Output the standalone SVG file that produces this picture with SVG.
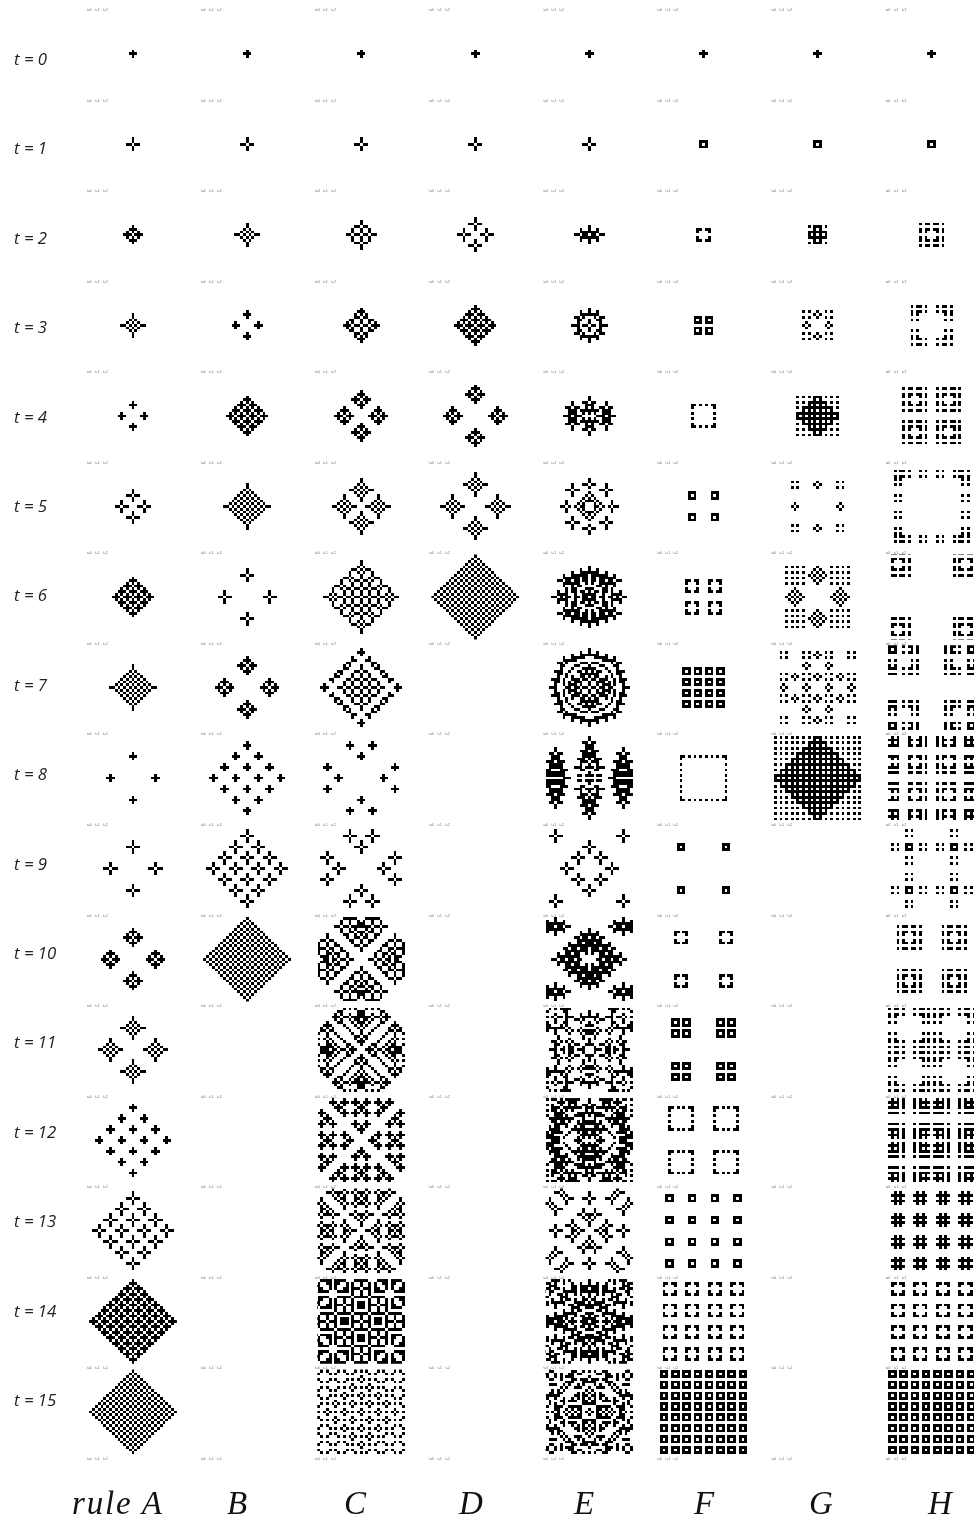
<svg xmlns="http://www.w3.org/2000/svg" width="974" height="1519" viewBox="0 0 974 1519">
<style>
use{mix-blend-mode:difference}
.lb use{mix-blend-mode:normal}
.p>use+use{clip-path:url(#cp)}
defs path{fill:#fff;shape-rendering:crispEdges}
.p{isolation:isolate;filter:url(#soft)}
.t{font:italic 16.8px "Open Sans",sans-serif;fill:#222}
.r{font:italic 33px "Liberation Serif",serif;fill:#111}
.s{font:3.2px "Liberation Sans",sans-serif;fill:#666;word-spacing:2.6px}
</style>
<defs>
<filter id="soft" filterUnits="userSpaceOnUse" x="-17" y="-17" width="35" height="35" color-interpolation-filters="sRGB"><feGaussianBlur stdDeviation=".24"/><feComponentTransfer><feFuncR type="gamma" exponent="2.1"/><feFuncG type="gamma" exponent="2.1"/><feFuncB type="gamma" exponent="2.1"/></feComponentTransfer></filter>
<clipPath id="cp"><rect x="-15" y="-15" width="31" height="31"/></clipPath>
<g id="lr"><text class="s" x="87" y="11">t=0 t+1 t+2</text><text class="s" x="201.1" y="11">t=0 t+1 t+2</text><text class="s" x="315.2" y="11">t=0 t+1 t+2</text><text class="s" x="429.3" y="11">t=0 t+1 t+2</text><text class="s" x="543.4" y="11">t=0 t+1 t+2</text><text class="s" x="657.5" y="11">t=0 t+1 t+2</text><text class="s" x="771.6" y="11">t=0 t+1 t+2</text><text class="s" x="885.7" y="11">t=0 t+1 t+2</text></g>
<path id="bg" d="M-16-16h33v33h-33z"/>
<path id="a0" d="M-1 0h3v1h-3zM0-1h1v1h-1zM0 1h1v1h-1z"/>
<path id="a1" d="M-2 0h2v1h-2zM1 0h2v1h-2zM0-2h1v2h-1zM0 1h1v2h-1z"/>
<path id="a2" d="M-3 0h3v1h-3zM1 0h3v1h-3zM-2-1h1v1h-1zM0-1h1v1h-1zM2-1h1v1h-1zM-2 1h1v1h-1zM0 1h1v1h-1zM2 1h1v1h-1zM-1-2h3v1h-3zM-1 2h3v1h-3zM0-3h1v1h-1zM0 3h1v1h-1z"/>
<path id="a3" d="M-4 0h2v1h-2zM-1 0h1v1h-1zM1 0h1v1h-1zM3 0h2v1h-2zM-2-1h1v1h-1zM0-1h1v1h-1zM2-1h1v1h-1zM-2 1h1v1h-1zM0 1h1v1h-1zM2 1h1v1h-1zM-1-2h1v1h-1zM1-2h1v1h-1zM-1 2h1v1h-1zM1 2h1v1h-1zM0-4h1v2h-1zM0 3h1v2h-1z"/>
<path id="n" d="M-1 0h1v1h-1zM1 0h1v1h-1zM0-1h1v1h-1zM0 1h1v1h-1z"/>
<path id="d" d="M-1-1h1v1h-1zM1-1h1v1h-1zM-1 1h1v1h-1zM1 1h1v1h-1z"/>
<path id="u" d="M-1-1h3v3h-3zM0 0v1h1v-1z"/>
<path id="v" d="M-2-2h2v1h-2zM1-2h2v1h-2zM-2-1h1v1h-1zM2-1h1v1h-1zM-2 1h1v1h-1zM2 1h1v1h-1zM-2 2h2v1h-2zM1 2h2v1h-2z"/>
<path id="e3" d="M-6 0h3v1h-3zM-2 0h2v1h-2zM1 0h2v1h-2zM4 0h3v1h-3zM-4-1h1v1h-1zM0-1h1v1h-1zM4-1h1v1h-1zM-4 1h1v1h-1zM0 1h1v1h-1zM4 1h1v1h-1zM-4-2h2v1h-2zM0-2h1v1h-1zM3-2h2v1h-2zM-4 2h2v1h-2zM0 2h1v1h-1zM3 2h2v1h-2zM-5-3h2v1h-2zM-2-3h1v1h-1zM2-3h1v1h-1zM4-3h2v1h-2zM-5 3h2v1h-2zM-2 3h1v1h-1zM2 3h1v1h-1zM4 3h2v1h-2zM-3-4h7v1h-7zM-3 4h7v1h-7zM-3-5h1v1h-1zM0-5h1v1h-1zM3-5h1v1h-1zM-3 5h1v1h-1zM0 5h1v1h-1zM3 5h1v1h-1zM0-6h1v1h-1zM0 6h1v1h-1z"/>
<path id="b" d="M-4-4h1v1h-1zM-2-4h2v1h-2zM1-4h2v1h-2zM4-4h1v1h-1zM-4-2h1v1h-1zM-2-2h2v1h-2zM1-2h2v1h-2zM4-2h1v1h-1zM-4 2h1v1h-1zM-2 2h2v1h-2zM1 2h2v1h-2zM4 2h1v1h-1zM-4 4h1v1h-1zM-2 4h2v1h-2zM1 4h2v1h-2zM4 4h1v1h-1zM-4-1h1v1h-1zM-2-1h1v1h-1zM2-1h1v1h-1zM4-1h1v1h-1zM-4 1h1v1h-1zM-2 1h1v1h-1zM2 1h1v1h-1zM4 1h1v1h-1z"/>

<g id="a4"><use href="#a0" x="4"/><use href="#a0" x="-4"/><use href="#a0" y="4"/><use href="#a0" y="-4"/></g>
<g id="a5"><use href="#a1" x="4"/><use href="#a1" x="-4"/><use href="#a1" y="4"/><use href="#a1" y="-4"/></g>
<g id="a6"><use href="#a2" x="4"/><use href="#a2" x="-4"/><use href="#a2" y="4"/><use href="#a2" y="-4"/></g>
<g id="a7"><use href="#a3" x="4"/><use href="#a3" x="-4"/><use href="#a3" y="4"/><use href="#a3" y="-4"/></g>
<g id="a8"><use href="#a0" x="8"/><use href="#a0" x="-8"/><use href="#a0" y="8"/><use href="#a0" y="-8"/></g>
<g id="a9"><use href="#a1" x="8"/><use href="#a1" x="-8"/><use href="#a1" y="8"/><use href="#a1" y="-8"/></g>
<g id="a10"><use href="#a2" x="8"/><use href="#a2" x="-8"/><use href="#a2" y="8"/><use href="#a2" y="-8"/></g>
<g id="a11"><use href="#a3" x="8"/><use href="#a3" x="-8"/><use href="#a3" y="8"/><use href="#a3" y="-8"/></g>
<g id="a12"><use href="#a4" x="8"/><use href="#a4" x="-8"/><use href="#a4" y="8"/><use href="#a4" y="-8"/></g>
<g id="a13"><use href="#a5" x="8"/><use href="#a5" x="-8"/><use href="#a5" y="8"/><use href="#a5" y="-8"/></g>
<g id="a14"><use href="#a6" x="8"/><use href="#a6" x="-8"/><use href="#a6" y="8"/><use href="#a6" y="-8"/></g>
<g id="a15i"><use href="#a7" x="8"/><use href="#a7" x="-8"/><use href="#a7" y="8"/><use href="#a7" y="-8"/></g>
<g id="a15"><use href="#a15i"/><use href="#a15i" x="-32"/><use href="#a15i" x="32"/><use href="#a15i" y="-32"/><use href="#a15i" y="32"/></g>

<g id="c2"><use href="#a1" x="3"/><use href="#a1" x="-3"/><use href="#a1" y="3"/><use href="#a1" y="-3"/></g>
<g id="c3"><use href="#a2" x="3"/><use href="#a2" x="-3"/><use href="#a2" y="3"/><use href="#a2" y="-3"/></g>
<g id="c4"><use href="#a2" x="6"/><use href="#a2" x="-6"/><use href="#a2" y="6"/><use href="#a2" y="-6"/></g>
<g id="c5"><use href="#a3" x="6"/><use href="#a3" x="-6"/><use href="#a3" y="6"/><use href="#a3" y="-6"/></g>
<g id="x3a3"><use href="#a3" x="3"/><use href="#a3" x="-3"/><use href="#a3" y="3"/><use href="#a3" y="-3"/></g>
<g id="x3a4"><use href="#a4" x="3"/><use href="#a4" x="-3"/><use href="#a4" y="3"/><use href="#a4" y="-3"/></g>
<g id="x3a5"><use href="#a5" x="3"/><use href="#a5" x="-3"/><use href="#a5" y="3"/><use href="#a5" y="-3"/></g>
<g id="x3a6"><use href="#a6" x="3"/><use href="#a6" x="-3"/><use href="#a6" y="3"/><use href="#a6" y="-3"/></g>
<g id="x3a7"><use href="#a7" x="3"/><use href="#a7" x="-3"/><use href="#a7" y="3"/><use href="#a7" y="-3"/></g>
<g id="x3a8"><use href="#a8" x="3"/><use href="#a8" x="-3"/><use href="#a8" y="3"/><use href="#a8" y="-3"/></g>
<g id="c6"><use href="#x3a3" x="6"/><use href="#x3a3" x="-6"/><use href="#x3a3" y="6"/><use href="#x3a3" y="-6"/></g>
<g id="c7"><use href="#x3a4" x="6"/><use href="#x3a4" x="-6"/><use href="#x3a4" y="6"/><use href="#x3a4" y="-6"/></g>
<g id="c8"><use href="#a4" x="12"/><use href="#a4" x="-12"/><use href="#a4" y="12"/><use href="#a4" y="-12"/></g>
<g id="c9"><use href="#a5" x="12"/><use href="#a5" x="-12"/><use href="#a5" y="12"/><use href="#a5" y="-12"/></g>
<g id="c10"><use href="#x3a5" x="12"/><use href="#x3a5" x="-12"/><use href="#x3a5" y="12"/><use href="#x3a5" y="-12"/></g>
<g id="c11"><use href="#x3a6" x="12"/><use href="#x3a6" x="-12"/><use href="#x3a6" y="12"/><use href="#x3a6" y="-12"/></g>
<g id="x6a6"><use href="#a6" x="6"/><use href="#a6" x="-6"/><use href="#a6" y="6"/><use href="#a6" y="-6"/></g>
<g id="x6a7"><use href="#a7" x="6"/><use href="#a7" x="-6"/><use href="#a7" y="6"/><use href="#a7" y="-6"/></g>
<g id="x63a7"><use href="#x3a7" x="6"/><use href="#x3a7" x="-6"/><use href="#x3a7" y="6"/><use href="#x3a7" y="-6"/></g>
<g id="x63a8"><use href="#x3a8" x="6"/><use href="#x3a8" x="-6"/><use href="#x3a8" y="6"/><use href="#x3a8" y="-6"/></g>
<g id="c12"><use href="#x6a6" x="12"/><use href="#x6a6" x="-12"/><use href="#x6a6" y="12"/><use href="#x6a6" y="-12"/></g>
<g id="c13"><use href="#x6a7" x="12"/><use href="#x6a7" x="-12"/><use href="#x6a7" y="12"/><use href="#x6a7" y="-12"/></g>
<g id="c14"><use href="#x63a7" x="12"/><use href="#x63a7" x="-12"/><use href="#x63a7" y="12"/><use href="#x63a7" y="-12"/></g>
<g id="c15"><use href="#x63a8" x="12"/><use href="#x63a8" x="-12"/><use href="#x63a8" y="12"/><use href="#x63a8" y="-12"/></g>

<g id="e2"><use href="#a1" x="3"/><use href="#a1" x="-3"/><use href="#a1" y="1"/><use href="#a1" y="-1"/></g>
<g id="e4"><use href="#e3" x="3"/><use href="#e3" x="-3"/><use href="#e3" y="1"/><use href="#e3" y="-1"/></g>
<g id="e5"><use href="#a1" x="8"/><use href="#a1" x="-8"/><use href="#a1" y="8"/><use href="#a1" y="-8"/><use href="#a1" x="4"/><use href="#a1" x="-4"/><use href="#a1" y="4"/><use href="#a1" y="-4"/><use href="#a1" x="6" y="6"/><use href="#a1" x="-6" y="6"/><use href="#a1" x="6" y="-6"/><use href="#a1" x="-6" y="-6"/><use href="#a1" x="2" y="2"/><use href="#a1" x="-2" y="2"/><use href="#a1" x="2" y="-2"/><use href="#a1" x="-2" y="-2"/></g>
<g id="e6"><use href="#e5" x="3"/><use href="#e5" x="-3"/><use href="#e5" y="1"/><use href="#e5" y="-1"/></g>
<g id="e7"><use href="#e3" x="8"/><use href="#e3" x="-8"/><use href="#e3" y="8"/><use href="#e3" y="-8"/><use href="#e3" x="4"/><use href="#e3" x="-4"/><use href="#e3" y="4"/><use href="#e3" y="-4"/><use href="#e3" x="6" y="6"/><use href="#e3" x="-6" y="6"/><use href="#e3" x="6" y="-6"/><use href="#e3" x="-6" y="-6"/><use href="#e3" x="2" y="2"/><use href="#e3" x="-2" y="2"/><use href="#e3" x="2" y="-2"/><use href="#e3" x="-2" y="-2"/></g>
<g id="e8"><use href="#e7" x="3"/><use href="#e7" x="-3"/><use href="#e7" y="1"/><use href="#e7" y="-1"/></g>
<g id="e9"><use href="#a1" x="8"/><use href="#a1" x="-8"/><use href="#a1" y="8"/><use href="#a1" y="-8"/><use href="#a1" x="12" y="12"/><use href="#a1" x="-12" y="12"/><use href="#a1" x="12" y="-12"/><use href="#a1" x="-12" y="-12"/><use href="#a1" x="4" y="4"/><use href="#a1" x="-4" y="4"/><use href="#a1" x="4" y="-4"/><use href="#a1" x="-4" y="-4"/></g>
<g id="e10"><use href="#e9" x="3"/><use href="#e9" x="-3"/><use href="#e9" y="1"/><use href="#e9" y="-1"/></g>
<g id="e11"><use href="#e3" x="8"/><use href="#e3" x="-8"/><use href="#e3" y="8"/><use href="#e3" y="-8"/><use href="#e3" x="12" y="12"/><use href="#e3" x="-12" y="12"/><use href="#e3" x="12" y="-12"/><use href="#e3" x="-12" y="-12"/><use href="#e3" x="4" y="4"/><use href="#e3" x="-4" y="4"/><use href="#e3" x="4" y="-4"/><use href="#e3" x="-4" y="-4"/></g>
<g id="e12"><use href="#e11" x="3"/><use href="#e11" x="-3"/><use href="#e11" y="1"/><use href="#e11" y="-1"/></g>
<g id="e13"><use href="#e5" x="8"/><use href="#e5" x="-8"/><use href="#e5" y="8"/><use href="#e5" y="-8"/><use href="#e5" x="12" y="12"/><use href="#e5" x="-12" y="12"/><use href="#e5" x="12" y="-12"/><use href="#e5" x="-12" y="-12"/><use href="#e5" x="4" y="4"/><use href="#e5" x="-4" y="4"/><use href="#e5" x="4" y="-4"/><use href="#e5" x="-4" y="-4"/></g>
<g id="e14"><use href="#e13" x="3"/><use href="#e13" x="-3"/><use href="#e13" y="1"/><use href="#e13" y="-1"/></g>
<g id="e15"><use href="#e7" x="8"/><use href="#e7" x="-8"/><use href="#e7" y="8"/><use href="#e7" y="-8"/><use href="#e7" x="12" y="12"/><use href="#e7" x="-12" y="12"/><use href="#e7" x="12" y="-12"/><use href="#e7" x="-12" y="-12"/><use href="#e7" x="4" y="4"/><use href="#e7" x="-4" y="4"/><use href="#e7" x="4" y="-4"/><use href="#e7" x="-4" y="-4"/></g>

<g id="f3"><use href="#u" x="2" y="2"/><use href="#u" x="-2" y="2"/><use href="#u" x="2" y="-2"/><use href="#u" x="-2" y="-2"/></g>
<g id="f4"><use href="#v" x="2" y="2"/><use href="#v" x="-2" y="2"/><use href="#v" x="2" y="-2"/><use href="#v" x="-2" y="-2"/></g>
<g id="f5"><use href="#u" x="4" y="4"/><use href="#u" x="-4" y="4"/><use href="#u" x="4" y="-4"/><use href="#u" x="-4" y="-4"/></g>
<g id="f6"><use href="#v" x="4" y="4"/><use href="#v" x="-4" y="4"/><use href="#v" x="4" y="-4"/><use href="#v" x="-4" y="-4"/></g>
<g id="f7"><use href="#f3" x="4" y="4"/><use href="#f3" x="-4" y="4"/><use href="#f3" x="4" y="-4"/><use href="#f3" x="-4" y="-4"/></g>
<g id="f8"><use href="#f4" x="4" y="4"/><use href="#f4" x="-4" y="4"/><use href="#f4" x="4" y="-4"/><use href="#f4" x="-4" y="-4"/></g>
<g id="f9"><use href="#u" x="8" y="8"/><use href="#u" x="-8" y="8"/><use href="#u" x="8" y="-8"/><use href="#u" x="-8" y="-8"/></g>
<g id="f10"><use href="#v" x="8" y="8"/><use href="#v" x="-8" y="8"/><use href="#v" x="8" y="-8"/><use href="#v" x="-8" y="-8"/></g>
<g id="f11"><use href="#f3" x="8" y="8"/><use href="#f3" x="-8" y="8"/><use href="#f3" x="8" y="-8"/><use href="#f3" x="-8" y="-8"/></g>
<g id="f12"><use href="#f4" x="8" y="8"/><use href="#f4" x="-8" y="8"/><use href="#f4" x="8" y="-8"/><use href="#f4" x="-8" y="-8"/></g>
<g id="f13"><use href="#f5" x="8" y="8"/><use href="#f5" x="-8" y="8"/><use href="#f5" x="8" y="-8"/><use href="#f5" x="-8" y="-8"/></g>
<g id="f14"><use href="#f6" x="8" y="8"/><use href="#f6" x="-8" y="8"/><use href="#f6" x="8" y="-8"/><use href="#f6" x="-8" y="-8"/></g>
<g id="f15"><use href="#f7" x="8" y="8"/><use href="#f7" x="-8" y="8"/><use href="#f7" x="8" y="-8"/><use href="#f7" x="-8" y="-8"/></g>

<g id="n3"><use href="#n" x="2"/><use href="#n" x="-2"/><use href="#n" y="2"/><use href="#n" y="-2"/></g>
<g id="d3"><use href="#d" x="2" y="2"/><use href="#d" x="-2" y="2"/><use href="#d" x="2" y="-2"/><use href="#d" x="-2" y="-2"/></g>
<g id="n5"><use href="#n" x="4"/><use href="#n" x="-4"/><use href="#n" y="4"/><use href="#n" y="-4"/></g>
<g id="d5"><use href="#d" x="4" y="4"/><use href="#d" x="-4" y="4"/><use href="#d" x="4" y="-4"/><use href="#d" x="-4" y="-4"/></g>
<g id="n7"><use href="#n3" x="4"/><use href="#n3" x="-4"/><use href="#n3" y="4"/><use href="#n3" y="-4"/></g>
<g id="d7"><use href="#d3" x="4" y="4"/><use href="#d3" x="-4" y="4"/><use href="#d3" x="4" y="-4"/><use href="#d3" x="-4" y="-4"/></g>
<g id="n9"><use href="#n" x="8"/><use href="#n" x="-8"/><use href="#n" y="8"/><use href="#n" y="-8"/></g>
<g id="d9"><use href="#d" x="8" y="8"/><use href="#d" x="-8" y="8"/><use href="#d" x="8" y="-8"/><use href="#d" x="-8" y="-8"/></g>
<g id="n11"><use href="#n3" x="8"/><use href="#n3" x="-8"/><use href="#n3" y="8"/><use href="#n3" y="-8"/></g>
<g id="d11"><use href="#d3" x="8" y="8"/><use href="#d3" x="-8" y="8"/><use href="#d3" x="8" y="-8"/><use href="#d3" x="-8" y="-8"/></g>
<g id="n13"><use href="#n5" x="8"/><use href="#n5" x="-8"/><use href="#n5" y="8"/><use href="#n5" y="-8"/></g>
<g id="d13"><use href="#d5" x="8" y="8"/><use href="#d5" x="-8" y="8"/><use href="#d5" x="8" y="-8"/><use href="#d5" x="-8" y="-8"/></g>
<g id="n15"><use href="#n7" x="8"/><use href="#n7" x="-8"/><use href="#n7" y="8"/><use href="#n7" y="-8"/></g>
<g id="d15"><use href="#d7" x="8" y="8"/><use href="#d7" x="-8" y="8"/><use href="#d7" x="8" y="-8"/><use href="#d7" x="-8" y="-8"/></g>

<g id="h3"><use href="#b" x="3" y="3"/><use href="#b" x="-3" y="3"/><use href="#b" x="3" y="-3"/><use href="#b" x="-3" y="-3"/></g>
<g id="h4"><use href="#b" x="6" y="6"/><use href="#b" x="-6" y="6"/><use href="#b" x="6" y="-6"/><use href="#b" x="-6" y="-6"/></g>
<g id="h5"><use href="#h3" x="6" y="6"/><use href="#h3" x="-6" y="6"/><use href="#h3" x="6" y="-6"/><use href="#h3" x="-6" y="-6"/></g>
<g id="h6"><use href="#b" x="12" y="12"/><use href="#b" x="-12" y="12"/><use href="#b" x="12" y="-12"/><use href="#b" x="-12" y="-12"/></g>
<g id="h7"><use href="#h3" x="12" y="12"/><use href="#h3" x="-12" y="12"/><use href="#h3" x="12" y="-12"/><use href="#h3" x="-12" y="-12"/></g>
<g id="h8"><use href="#h4" x="12" y="12"/><use href="#h4" x="-12" y="12"/><use href="#h4" x="12" y="-12"/><use href="#h4" x="-12" y="-12"/></g>
<g id="h9"><use href="#h5" x="12" y="12"/><use href="#h5" x="-12" y="12"/><use href="#h5" x="12" y="-12"/><use href="#h5" x="-12" y="-12"/></g>
<g id="h10"><use href="#b" x="8" y="8"/><use href="#b" x="-8" y="8"/><use href="#b" x="8" y="-8"/><use href="#b" x="-8" y="-8"/></g>
<g id="h11"><use href="#h3" x="8" y="8"/><use href="#h3" x="-8" y="8"/><use href="#h3" x="8" y="-8"/><use href="#h3" x="-8" y="-8"/></g>
<g id="h12"><use href="#h4" x="8" y="8"/><use href="#h4" x="-8" y="8"/><use href="#h4" x="8" y="-8"/><use href="#h4" x="-8" y="-8"/></g>
<g id="h13"><use href="#h5" x="8" y="8"/><use href="#h5" x="-8" y="8"/><use href="#h5" x="8" y="-8"/><use href="#h5" x="-8" y="-8"/></g>
<g id="h14"><use href="#h6" x="8" y="8"/><use href="#h6" x="-8" y="8"/><use href="#h6" x="8" y="-8"/><use href="#h6" x="-8" y="-8"/></g>
<g id="h15"><use href="#h7" x="8" y="8"/><use href="#h7" x="-8" y="8"/><use href="#h7" x="8" y="-8"/><use href="#h7" x="-8" y="-8"/></g>

<g id="wc8"><use href="#c8"/><use href="#c8" x="32"/><use href="#c8" x="-32"/><use href="#c8" y="32"/><use href="#c8" y="-32"/><use href="#c8" x="32" y="32"/><use href="#c8" x="-32" y="32"/><use href="#c8" x="32" y="-32"/><use href="#c8" x="-32" y="-32"/></g>
<g id="wc9"><use href="#c9"/><use href="#c9" x="32"/><use href="#c9" x="-32"/><use href="#c9" y="32"/><use href="#c9" y="-32"/><use href="#c9" x="32" y="32"/><use href="#c9" x="-32" y="32"/><use href="#c9" x="32" y="-32"/><use href="#c9" x="-32" y="-32"/></g>
<g id="wc10"><use href="#c10"/><use href="#c10" x="32"/><use href="#c10" x="-32"/><use href="#c10" y="32"/><use href="#c10" y="-32"/><use href="#c10" x="32" y="32"/><use href="#c10" x="-32" y="32"/><use href="#c10" x="32" y="-32"/><use href="#c10" x="-32" y="-32"/></g>
<g id="wc11"><use href="#c11"/><use href="#c11" x="32"/><use href="#c11" x="-32"/><use href="#c11" y="32"/><use href="#c11" y="-32"/><use href="#c11" x="32" y="32"/><use href="#c11" x="-32" y="32"/><use href="#c11" x="32" y="-32"/><use href="#c11" x="-32" y="-32"/></g>
<g id="wc12"><use href="#c12"/><use href="#c12" x="32"/><use href="#c12" x="-32"/><use href="#c12" y="32"/><use href="#c12" y="-32"/><use href="#c12" x="32" y="32"/><use href="#c12" x="-32" y="32"/><use href="#c12" x="32" y="-32"/><use href="#c12" x="-32" y="-32"/></g>
<g id="wc13"><use href="#c13"/><use href="#c13" x="32"/><use href="#c13" x="-32"/><use href="#c13" y="32"/><use href="#c13" y="-32"/><use href="#c13" x="32" y="32"/><use href="#c13" x="-32" y="32"/><use href="#c13" x="32" y="-32"/><use href="#c13" x="-32" y="-32"/></g>
<g id="wc14"><use href="#c14"/><use href="#c14" x="32"/><use href="#c14" x="-32"/><use href="#c14" y="32"/><use href="#c14" y="-32"/><use href="#c14" x="32" y="32"/><use href="#c14" x="-32" y="32"/><use href="#c14" x="32" y="-32"/><use href="#c14" x="-32" y="-32"/></g>
<g id="wc15"><use href="#c15"/><use href="#c15" x="32"/><use href="#c15" x="-32"/><use href="#c15" y="32"/><use href="#c15" y="-32"/><use href="#c15" x="32" y="32"/><use href="#c15" x="-32" y="32"/><use href="#c15" x="32" y="-32"/><use href="#c15" x="-32" y="-32"/></g>
<g id="we8"><use href="#e8"/><use href="#e8" x="32"/><use href="#e8" x="-32"/><use href="#e8" y="32"/><use href="#e8" y="-32"/><use href="#e8" x="32" y="32"/><use href="#e8" x="-32" y="32"/><use href="#e8" x="32" y="-32"/><use href="#e8" x="-32" y="-32"/></g>
<g id="we10"><use href="#e10"/><use href="#e10" x="32"/><use href="#e10" x="-32"/><use href="#e10" y="32"/><use href="#e10" y="-32"/><use href="#e10" x="32" y="32"/><use href="#e10" x="-32" y="32"/><use href="#e10" x="32" y="-32"/><use href="#e10" x="-32" y="-32"/></g>
<g id="we11"><use href="#e11"/><use href="#e11" x="32"/><use href="#e11" x="-32"/><use href="#e11" y="32"/><use href="#e11" y="-32"/><use href="#e11" x="32" y="32"/><use href="#e11" x="-32" y="32"/><use href="#e11" x="32" y="-32"/><use href="#e11" x="-32" y="-32"/></g>
<g id="we12"><use href="#e12"/><use href="#e12" x="32"/><use href="#e12" x="-32"/><use href="#e12" y="32"/><use href="#e12" y="-32"/><use href="#e12" x="32" y="32"/><use href="#e12" x="-32" y="32"/><use href="#e12" x="32" y="-32"/><use href="#e12" x="-32" y="-32"/></g>
<g id="we13"><use href="#e13"/><use href="#e13" x="32"/><use href="#e13" x="-32"/><use href="#e13" y="32"/><use href="#e13" y="-32"/><use href="#e13" x="32" y="32"/><use href="#e13" x="-32" y="32"/><use href="#e13" x="32" y="-32"/><use href="#e13" x="-32" y="-32"/></g>
<g id="we14"><use href="#e14"/><use href="#e14" x="32"/><use href="#e14" x="-32"/><use href="#e14" y="32"/><use href="#e14" y="-32"/><use href="#e14" x="32" y="32"/><use href="#e14" x="-32" y="32"/><use href="#e14" x="32" y="-32"/><use href="#e14" x="-32" y="-32"/></g>
<g id="we15"><use href="#e15"/><use href="#e15" x="32"/><use href="#e15" x="-32"/><use href="#e15" y="32"/><use href="#e15" y="-32"/><use href="#e15" x="32" y="32"/><use href="#e15" x="-32" y="32"/><use href="#e15" x="32" y="-32"/><use href="#e15" x="-32" y="-32"/></g>
<g id="wh6"><use href="#h6"/><use href="#h6" x="32"/><use href="#h6" x="-32"/><use href="#h6" y="32"/><use href="#h6" y="-32"/><use href="#h6" x="32" y="32"/><use href="#h6" x="-32" y="32"/><use href="#h6" x="32" y="-32"/><use href="#h6" x="-32" y="-32"/></g>
<g id="wh7"><use href="#h7"/><use href="#h7" x="32"/><use href="#h7" x="-32"/><use href="#h7" y="32"/><use href="#h7" y="-32"/><use href="#h7" x="32" y="32"/><use href="#h7" x="-32" y="32"/><use href="#h7" x="32" y="-32"/><use href="#h7" x="-32" y="-32"/></g>
<g id="wh8"><use href="#h8"/><use href="#h8" x="32"/><use href="#h8" x="-32"/><use href="#h8" y="32"/><use href="#h8" y="-32"/><use href="#h8" x="32" y="32"/><use href="#h8" x="-32" y="32"/><use href="#h8" x="32" y="-32"/><use href="#h8" x="-32" y="-32"/></g>
<g id="wh9"><use href="#h9"/><use href="#h9" x="32"/><use href="#h9" x="-32"/><use href="#h9" y="32"/><use href="#h9" y="-32"/><use href="#h9" x="32" y="32"/><use href="#h9" x="-32" y="32"/><use href="#h9" x="32" y="-32"/><use href="#h9" x="-32" y="-32"/></g>
<g id="wh12"><use href="#h12"/><use href="#h12" x="32"/><use href="#h12" x="-32"/><use href="#h12" y="32"/><use href="#h12" y="-32"/><use href="#h12" x="32" y="32"/><use href="#h12" x="-32" y="32"/><use href="#h12" x="32" y="-32"/><use href="#h12" x="-32" y="-32"/></g>
<g id="wh13"><use href="#h13"/><use href="#h13" x="32"/><use href="#h13" x="-32"/><use href="#h13" y="32"/><use href="#h13" y="-32"/><use href="#h13" x="32" y="32"/><use href="#h13" x="-32" y="32"/><use href="#h13" x="32" y="-32"/><use href="#h13" x="-32" y="-32"/></g>
<g id="wh14"><use href="#h14"/><use href="#h14" x="32"/><use href="#h14" x="-32"/><use href="#h14" y="32"/><use href="#h14" y="-32"/><use href="#h14" x="32" y="32"/><use href="#h14" x="-32" y="32"/><use href="#h14" x="32" y="-32"/><use href="#h14" x="-32" y="-32"/></g>
<g id="wh15"><use href="#h15"/><use href="#h15" x="32"/><use href="#h15" x="-32"/><use href="#h15" y="32"/><use href="#h15" y="-32"/><use href="#h15" x="32" y="32"/><use href="#h15" x="-32" y="32"/><use href="#h15" x="32" y="-32"/><use href="#h15" x="-32" y="-32"/></g>
</defs>
<rect width="974" height="1519" fill="#fff"/>

<g id="panels" transform="translate(.007 .007)">
<g id="A0" class="p" transform="translate(131.59 52.34) scale(2.816 2.72)"><use href="#bg"/><use href="#a0"/></g>
<g id="A1" class="p" transform="translate(131.59 142.89) scale(2.816 2.72)"><use href="#bg"/><use href="#a1"/></g>
<g id="A2" class="p" transform="translate(131.59 233.44) scale(2.816 2.72)"><use href="#bg"/><use href="#a2"/></g>
<g id="A3" class="p" transform="translate(131.59 323.99) scale(2.816 2.72)"><use href="#bg"/><use href="#a3"/></g>
<g id="A4" class="p" transform="translate(131.59 414.54) scale(2.816 2.72)"><use href="#bg"/><use href="#a4"/></g>
<g id="A5" class="p" transform="translate(131.59 505.09) scale(2.816 2.72)"><use href="#bg"/><use href="#a5"/></g>
<g id="A6" class="p" transform="translate(131.59 595.64) scale(2.816 2.72)"><use href="#bg"/><use href="#a6"/></g>
<g id="A7" class="p" transform="translate(131.59 686.19) scale(2.816 2.72)"><use href="#bg"/><use href="#a7"/></g>
<g id="A8" class="p" transform="translate(131.59 776.74) scale(2.816 2.72)"><use href="#bg"/><use href="#a8"/></g>
<g id="A9" class="p" transform="translate(131.59 867.29) scale(2.816 2.72)"><use href="#bg"/><use href="#a9"/></g>
<g id="A10" class="p" transform="translate(131.59 957.84) scale(2.816 2.72)"><use href="#bg"/><use href="#a10"/></g>
<g id="A11" class="p" transform="translate(131.59 1048.39) scale(2.816 2.72)"><use href="#bg"/><use href="#a11"/></g>
<g id="A12" class="p" transform="translate(131.59 1138.94) scale(2.816 2.72)"><use href="#bg"/><use href="#a12"/></g>
<g id="A13" class="p" transform="translate(131.59 1229.49) scale(2.816 2.72)"><use href="#bg"/><use href="#a13"/></g>
<g id="A14" class="p" transform="translate(131.59 1320.04) scale(2.816 2.72)"><use href="#bg"/><use href="#a14"/></g>
<g id="A15" class="p" transform="translate(131.59 1410.59) scale(2.816 2.72)"><use href="#bg"/><use href="#a15"/></g>

<g id="B0" class="p" transform="translate(245.69 52.34) scale(2.816 2.72)"><use href="#bg"/><use href="#a0"/></g>
<g id="B1" class="p" transform="translate(245.69 142.89) scale(2.816 2.72)"><use href="#bg"/><use href="#a1"/></g>
<g id="B2" class="p" transform="translate(245.69 233.44) scale(2.816 2.72)"><use href="#bg"/><use href="#a3"/></g>
<g id="B3" class="p" transform="translate(245.69 323.99) scale(2.816 2.72)"><use href="#bg"/><use href="#a4"/></g>
<g id="B4" class="p" transform="translate(245.69 414.54) scale(2.816 2.72)"><use href="#bg"/><use href="#a6"/></g>
<g id="B5" class="p" transform="translate(245.69 505.09) scale(2.816 2.72)"><use href="#bg"/><use href="#a7"/></g>
<g id="B6" class="p" transform="translate(245.69 595.64) scale(2.816 2.72)"><use href="#bg"/><use href="#a9"/></g>
<g id="B7" class="p" transform="translate(245.69 686.19) scale(2.816 2.72)"><use href="#bg"/><use href="#a10"/></g>
<g id="B8" class="p" transform="translate(245.69 776.74) scale(2.816 2.72)"><use href="#bg"/><use href="#a12"/></g>
<g id="B9" class="p" transform="translate(245.69 867.29) scale(2.816 2.72)"><use href="#bg"/><use href="#a13"/></g>
<g id="B10" class="p" transform="translate(245.69 957.84) scale(2.816 2.72)"><use href="#bg"/><use href="#a15"/></g>

<g id="C0" class="p" transform="translate(359.79 52.34) scale(2.816 2.72)"><use href="#bg"/><use href="#a0"/></g>
<g id="C1" class="p" transform="translate(359.79 142.89) scale(2.816 2.72)"><use href="#bg"/><use href="#a1"/></g>
<g id="C2" class="p" transform="translate(359.79 233.44) scale(2.816 2.72)"><use href="#bg"/><use href="#c2"/></g>
<g id="C3" class="p" transform="translate(359.79 323.99) scale(2.816 2.72)"><use href="#bg"/><use href="#c3"/></g>
<g id="C4" class="p" transform="translate(359.79 414.54) scale(2.816 2.72)"><use href="#bg"/><use href="#c4"/></g>
<g id="C5" class="p" transform="translate(359.79 505.09) scale(2.816 2.72)"><use href="#bg"/><use href="#c5"/></g>
<g id="C6" class="p" transform="translate(359.79 595.64) scale(2.816 2.72)"><use href="#bg"/><use href="#c6"/></g>
<g id="C7" class="p" transform="translate(359.79 686.19) scale(2.816 2.72)"><use href="#bg"/><use href="#c7"/></g>
<g id="C8" class="p" transform="translate(359.79 776.74) scale(2.816 2.72)"><use href="#bg"/><use href="#wc8"/></g>
<g id="C9" class="p" transform="translate(359.79 867.29) scale(2.816 2.72)"><use href="#bg"/><use href="#wc9"/></g>
<g id="C10" class="p" transform="translate(359.79 957.84) scale(2.816 2.72)"><use href="#bg"/><use href="#wc10"/></g>
<g id="C11" class="p" transform="translate(359.79 1048.39) scale(2.816 2.72)"><use href="#bg"/><use href="#wc11"/></g>
<g id="C12" class="p" transform="translate(359.79 1138.94) scale(2.816 2.72)"><use href="#bg"/><use href="#wc12"/></g>
<g id="C13" class="p" transform="translate(359.79 1229.49) scale(2.816 2.72)"><use href="#bg"/><use href="#wc13"/></g>
<g id="C14" class="p" transform="translate(359.79 1320.04) scale(2.816 2.72)"><use href="#bg"/><use href="#wc14"/></g>
<g id="C15" class="p" transform="translate(359.79 1410.59) scale(2.816 2.72)"><use href="#bg"/><use href="#wc15"/></g>

<g id="D0" class="p" transform="translate(473.89 52.34) scale(2.816 2.72)"><use href="#bg"/><use href="#a0"/></g>
<g id="D1" class="p" transform="translate(473.89 142.89) scale(2.816 2.72)"><use href="#bg"/><use href="#a1"/></g>
<g id="D2" class="p" transform="translate(473.89 233.44) scale(2.816 2.72)"><use href="#bg"/><use href="#a5"/></g>
<g id="D3" class="p" transform="translate(473.89 323.99) scale(2.816 2.72)"><use href="#bg"/><use href="#a6"/></g>
<g id="D4" class="p" transform="translate(473.89 414.54) scale(2.816 2.72)"><use href="#bg"/><use href="#a10"/></g>
<g id="D5" class="p" transform="translate(473.89 505.09) scale(2.816 2.72)"><use href="#bg"/><use href="#a11"/></g>
<g id="D6" class="p" transform="translate(473.89 595.64) scale(2.816 2.72)"><use href="#bg"/><use href="#a15"/></g>

<g id="E0" class="p" transform="translate(587.99 52.34) scale(2.816 2.72)"><use href="#bg"/><use href="#a0"/></g>
<g id="E1" class="p" transform="translate(587.99 142.89) scale(2.816 2.72)"><use href="#bg"/><use href="#a1"/></g>
<g id="E2" class="p" transform="translate(587.99 233.44) scale(2.816 2.72)"><use href="#bg"/><use href="#e2"/></g>
<g id="E3" class="p" transform="translate(587.99 323.99) scale(2.816 2.72)"><use href="#bg"/><use href="#e3"/></g>
<g id="E4" class="p" transform="translate(587.99 414.54) scale(2.816 2.72)"><use href="#bg"/><use href="#e4"/></g>
<g id="E5" class="p" transform="translate(587.99 505.09) scale(2.816 2.72)"><use href="#bg"/><use href="#e5"/></g>
<g id="E6" class="p" transform="translate(587.99 595.64) scale(2.816 2.72)"><use href="#bg"/><use href="#e6"/></g>
<g id="E7" class="p" transform="translate(587.99 686.19) scale(2.816 2.72)"><use href="#bg"/><use href="#e7"/></g>
<g id="E8" class="p" transform="translate(587.99 776.74) scale(2.816 2.72)"><use href="#bg"/><use href="#we8"/></g>
<g id="E9" class="p" transform="translate(587.99 867.29) scale(2.816 2.72)"><use href="#bg"/><use href="#e9"/></g>
<g id="E10" class="p" transform="translate(587.99 957.84) scale(2.816 2.72)"><use href="#bg"/><use href="#we10"/></g>
<g id="E11" class="p" transform="translate(587.99 1048.39) scale(2.816 2.72)"><use href="#bg"/><use href="#we11"/></g>
<g id="E12" class="p" transform="translate(587.99 1138.94) scale(2.816 2.72)"><use href="#bg"/><use href="#we12"/></g>
<g id="E13" class="p" transform="translate(587.99 1229.49) scale(2.816 2.72)"><use href="#bg"/><use href="#we13"/></g>
<g id="E14" class="p" transform="translate(587.99 1320.04) scale(2.816 2.72)"><use href="#bg"/><use href="#we14"/></g>
<g id="E15" class="p" transform="translate(587.99 1410.59) scale(2.816 2.72)"><use href="#bg"/><use href="#we15"/></g>

<g id="F0" class="p" transform="translate(702.09 52.34) scale(2.816 2.72)"><use href="#bg"/><use href="#a0"/></g>
<g id="F1" class="p" transform="translate(702.09 142.89) scale(2.816 2.72)"><use href="#bg"/><use href="#u"/></g>
<g id="F2" class="p" transform="translate(702.09 233.44) scale(2.816 2.72)"><use href="#bg"/><use href="#v"/></g>
<g id="F3" class="p" transform="translate(702.09 323.99) scale(2.816 2.72)"><use href="#bg"/><use href="#f3"/></g>
<g id="F4" class="p" transform="translate(702.09 414.54) scale(2.816 2.72)"><use href="#bg"/><use href="#f4"/></g>
<g id="F5" class="p" transform="translate(702.09 505.09) scale(2.816 2.72)"><use href="#bg"/><use href="#f5"/></g>
<g id="F6" class="p" transform="translate(702.09 595.64) scale(2.816 2.72)"><use href="#bg"/><use href="#f6"/></g>
<g id="F7" class="p" transform="translate(702.09 686.19) scale(2.816 2.72)"><use href="#bg"/><use href="#f7"/></g>
<g id="F8" class="p" transform="translate(702.09 776.74) scale(2.816 2.72)"><use href="#bg"/><use href="#f8"/></g>
<g id="F9" class="p" transform="translate(702.09 867.29) scale(2.816 2.72)"><use href="#bg"/><use href="#f9"/></g>
<g id="F10" class="p" transform="translate(702.09 957.84) scale(2.816 2.72)"><use href="#bg"/><use href="#f10"/></g>
<g id="F11" class="p" transform="translate(702.09 1048.39) scale(2.816 2.72)"><use href="#bg"/><use href="#f11"/></g>
<g id="F12" class="p" transform="translate(702.09 1138.94) scale(2.816 2.72)"><use href="#bg"/><use href="#f12"/></g>
<g id="F13" class="p" transform="translate(702.09 1229.49) scale(2.816 2.72)"><use href="#bg"/><use href="#f13"/></g>
<g id="F14" class="p" transform="translate(702.09 1320.04) scale(2.816 2.72)"><use href="#bg"/><use href="#f14"/></g>
<g id="F15" class="p" transform="translate(702.09 1410.59) scale(2.816 2.72)"><use href="#bg"/><use href="#f15"/></g>

<g id="G0" class="p" transform="translate(816.19 52.34) scale(2.816 2.72)"><use href="#bg"/><use href="#a0"/></g>
<g id="G1" class="p" transform="translate(816.19 142.89) scale(2.816 2.72)"><use href="#bg"/><use href="#u"/></g>
<g id="G2" class="p" transform="translate(816.19 233.44) scale(2.816 2.72)"><use href="#bg"/><use href="#n3"/><use href="#d3"/></g>
<g id="G3" class="p" transform="translate(816.19 323.99) scale(2.816 2.72)"><use href="#bg"/><use href="#n5"/><use href="#d5"/></g>
<g id="G4" class="p" transform="translate(816.19 414.54) scale(2.816 2.72)"><use href="#bg"/><use href="#n7"/><use href="#d7"/></g>
<g id="G5" class="p" transform="translate(816.19 505.09) scale(2.816 2.72)"><use href="#bg"/><use href="#n9"/><use href="#d9"/></g>
<g id="G6" class="p" transform="translate(816.19 595.64) scale(2.816 2.72)"><use href="#bg"/><use href="#n11"/><use href="#d11"/></g>
<g id="G7" class="p" transform="translate(816.19 686.19) scale(2.816 2.72)"><use href="#bg"/><use href="#n13"/><use href="#d13"/></g>
<g id="G8" class="p" transform="translate(816.19 776.74) scale(2.816 2.72)"><use href="#bg"/><use href="#n15"/><use href="#d15"/></g>

<g id="H0" class="p" transform="translate(930.29 52.34) scale(2.816 2.72)"><use href="#bg"/><use href="#a0"/></g>
<g id="H1" class="p" transform="translate(930.29 142.89) scale(2.816 2.72)"><use href="#bg"/><use href="#u"/></g>
<g id="H2" class="p" transform="translate(930.29 233.44) scale(2.816 2.72)"><use href="#bg"/><use href="#b"/></g>
<g id="H3" class="p" transform="translate(930.29 323.99) scale(2.816 2.72)"><use href="#bg"/><use href="#h3"/></g>
<g id="H4" class="p" transform="translate(930.29 414.54) scale(2.816 2.72)"><use href="#bg"/><use href="#h4"/></g>
<g id="H5" class="p" transform="translate(930.29 505.09) scale(2.816 2.72)"><use href="#bg"/><use href="#h5"/></g>
<g id="H6" class="p" transform="translate(930.29 595.64) scale(2.816 2.72)"><use href="#bg"/><use href="#wh6"/></g>
<g id="H7" class="p" transform="translate(930.29 686.19) scale(2.816 2.72)"><use href="#bg"/><use href="#wh7"/></g>
<g id="H8" class="p" transform="translate(930.29 776.74) scale(2.816 2.72)"><use href="#bg"/><use href="#wh8"/></g>
<g id="H9" class="p" transform="translate(930.29 867.29) scale(2.816 2.72)"><use href="#bg"/><use href="#wh9"/></g>
<g id="H10" class="p" transform="translate(930.29 957.84) scale(2.816 2.72)"><use href="#bg"/><use href="#h10"/></g>
<g id="H11" class="p" transform="translate(930.29 1048.39) scale(2.816 2.72)"><use href="#bg"/><use href="#h11"/></g>
<g id="H12" class="p" transform="translate(930.29 1138.94) scale(2.816 2.72)"><use href="#bg"/><use href="#wh12"/></g>
<g id="H13" class="p" transform="translate(930.29 1229.49) scale(2.816 2.72)"><use href="#bg"/><use href="#wh13"/></g>
<g id="H14" class="p" transform="translate(930.29 1320.04) scale(2.816 2.72)"><use href="#bg"/><use href="#wh14"/></g>
<g id="H15" class="p" transform="translate(930.29 1410.59) scale(2.816 2.72)"><use href="#bg"/><use href="#wh15"/></g>
</g>

<g id="small-labels" class="lb"><use href="#lr"/><use href="#lr" y="90.55"/><use href="#lr" y="181.1"/><use href="#lr" y="271.65"/><use href="#lr" y="362.2"/><use href="#lr" y="452.75"/><use href="#lr" y="543.3"/><use href="#lr" y="633.85"/><use href="#lr" y="724.4"/><use href="#lr" y="814.95"/><use href="#lr" y="905.5"/><use href="#lr" y="996.05"/><use href="#lr" y="1086.6"/><use href="#lr" y="1177.15"/><use href="#lr" y="1267.7"/><use href="#lr" y="1358.25"/><use href="#lr" y="1448.8"/></g>

<g id="time-labels">
<text class="t" x="14" y="65">t = 0</text><text class="t" x="14" y="154.4">t = 1</text><text class="t" x="14" y="243.8">t = 2</text><text class="t" x="14" y="333.2">t = 3</text><text class="t" x="14" y="422.6">t = 4</text><text class="t" x="14" y="512">t = 5</text><text class="t" x="14" y="601.4">t = 6</text><text class="t" x="14" y="690.8">t = 7</text><text class="t" x="14" y="780.2">t = 8</text><text class="t" x="14" y="869.6">t = 9</text><text class="t" x="14" y="959">t = 10</text><text class="t" x="14" y="1048.4">t = 11</text><text class="t" x="14" y="1137.8">t = 12</text><text class="t" x="14" y="1227.2">t = 13</text><text class="t" x="14" y="1316.6">t = 14</text><text class="t" x="14" y="1406">t = 15</text>
</g>
<g id="rule-labels">
<text class="r" x="72" y="1514" textLength="90">rule A</text><text class="r" x="227" y="1514">B</text><text class="r" x="344" y="1514">C</text><text class="r" x="459" y="1514">D</text><text class="r" x="574" y="1514">E</text><text class="r" x="694" y="1514">F</text><text class="r" x="809" y="1514">G</text><text class="r" x="928" y="1514">H</text>
</g>
</svg>
